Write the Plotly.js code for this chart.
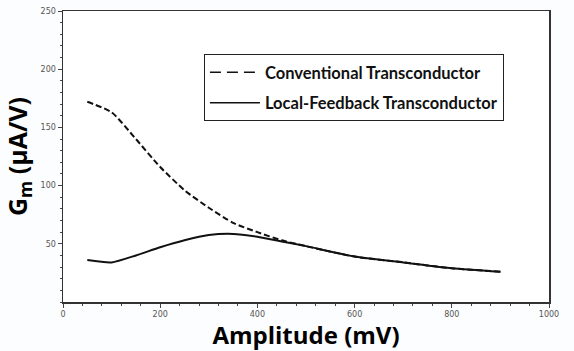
<!DOCTYPE html>
<html>
<head>
<meta charset="utf-8">
<script src="https://cdn.plot.ly/plotly-3.0.1.min.js"></script>
<style>html,body{margin:0;padding:0;background:#fcfdfe;}#chart{width:574px;height:351px;}</style>
</head>
<body>
<div id="chart"></div>
<script>
const amplitude = [50, 100, 150, 200, 250, 300, 350, 400, 450, 500, 600, 700, 800, 900];
const conventional = [172, 163, 140, 116, 96, 81, 68, 60, 53, 48, 39, 34, 29, 26];
const localFeedback = [36, 34, 40, 47, 53, 57.5, 58.5, 56, 52, 48, 39, 34, 29, 26];
const seriesNames = ['Conventional Transconductor', 'Local-Feedback Transconductor'];
const xTicks = [0, 200, 400, 600, 800, 1000];
const yTicks = [50, 100, 150, 200, 250];

const traces = [
  {x: amplitude, y: conventional, name: seriesNames[0], showlegend: false, mode: 'lines', line: {color: '#111', width: 2, dash: '6px,3px', shape: 'spline', smoothing: 0.6}},
  {x: amplitude, y: localFeedback, name: seriesNames[1], showlegend: false, mode: 'lines', line: {color: '#111', width: 2, shape: 'spline', smoothing: 0.6}},
  // legend entries (no data marks)
  {x: [null], y: [null], name: seriesNames[0], legendgroup: 'a', mode: 'lines', line: {color: '#111', width: 1.5, dash: '11px,6px'}},
  {x: [null], y: [null], name: seriesNames[1], legendgroup: 'b', mode: 'lines', line: {color: '#111', width: 1.5}}
];

const axisCommon = {
  showgrid: false, zeroline: false, showline: true, linecolor: '#333', linewidth: 1.5, mirror: true,
  ticks: 'outside', ticklen: 4, tickwidth: 1, tickcolor: '#444',
  tickfont: {family: 'DejaVu Sans', size: 8, color: '#555'}
};

const layout = {
  width: 574, height: 351,
  margin: {l: 63, r: 25, t: 11, b: 49},
  paper_bgcolor: '#fcfdfe', plot_bgcolor: '#ffffff',
  showlegend: true,
  legend: {x: 0.29, y: 0.852, xanchor: 'left', yanchor: 'top', bgcolor: '#ffffff', bordercolor: '#222', borderwidth: 1,
    traceorder: 'grouped', tracegroupgap: 6, itemwidth: 50,
    font: {family: 'Lato', size: 16.5, color: '#111', weight: 'bold'}},
  xaxis: Object.assign({}, axisCommon, {range: [0, 1000], tickvals: xTicks,
    minor: {dtick: 40, ticks: 'outside', ticklen: 2, tickcolor: '#444'},
    title: {text: 'Amplitude (mV)', standoff: 9, font: {family: 'Open Sans', size: 24, color: '#000', weight: 'bold'}}}),
  yaxis: Object.assign({}, axisCommon, {range: [0, 250], tickvals: yTicks,
    minor: {dtick: 10, ticks: 'outside', ticklen: 2, tickcolor: '#444'},
    title: {text: 'G<sub>m</sub> (μA/V)', standoff: 6, font: {family: 'Open Sans', size: 25, color: '#000', weight: 'bold'}}})
};

Plotly.newPlot('chart', traces, layout, {displayModeBar: false, staticPlot: true});
</script>
</body>
</html>
